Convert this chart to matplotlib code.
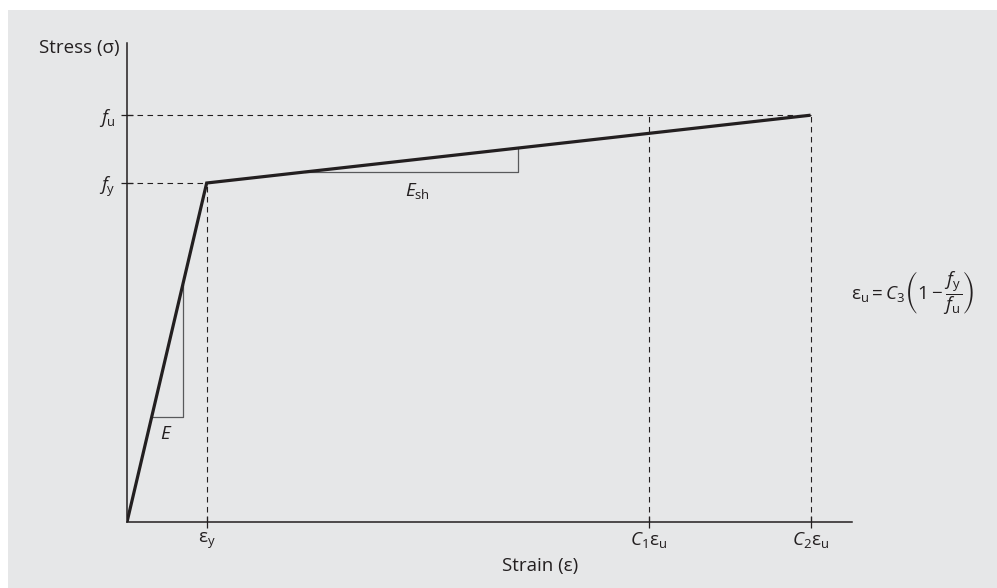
import matplotlib
matplotlib.use("Agg")
import matplotlib.pyplot as plt
from matplotlib.patches import Rectangle

plt.rcParams['font.family'] = ['Open Sans', 'DejaVu Sans']
plt.rcParams['mathtext.fontset'] = 'custom'
plt.rcParams['mathtext.rm'] = 'Open Sans'
plt.rcParams['mathtext.it'] = 'Open Sans:italic'
plt.rcParams['mathtext.bf'] = 'Open Sans:bold'
plt.rcParams['mathtext.fallback'] = 'stixsans'

# ---- data (normalised: eps_y = 1, f_y = 1) ----
eps_y = 1.0
C1_eps_u = 6.55
C2_eps_u = 8.58
f_y = 1.0
f_u = 1.20
x_max = 9.10
y_max = 1.413

curve_strain = [0.0, eps_y, C2_eps_u]
curve_stress = [0.0, f_y, f_u]

E_tri_strain = [0.31, 0.70]
Esh_tri_strain = [2.23, 4.91]

xtick_vals = [eps_y, C1_eps_u, C2_eps_u]
xtick_labels = [r'$\mathrm{ε}_\mathrm{y}$', r'$C_1\mathrm{ε}_\mathrm{u}$', r'$C_2\mathrm{ε}_\mathrm{u}$']
ytick_vals = [f_y, f_u]
ytick_labels = [r'$f_\mathrm{y}$', r'$f_\mathrm{u}$']

W, H = 997, 588
ink = '#231f20'
fs = 13.5
fig = plt.figure(figsize=(W / 100, H / 100), dpi=100, facecolor='white')
fig.patches.append(Rectangle((8 / W, 0), 1 - 8 / W, (H - 10) / H, transform=fig.transFigure,
                             facecolor='#e6e7e8', edgecolor='none', zorder=-5))

ax = fig.add_axes([127 / W, (H - 522) / H, (852 - 127) / W, (522 - 43) / H])
ax.set_facecolor('none')
ax.set_xlim(0, x_max)
ax.set_ylim(0, y_max)
for s in ['top', 'right']:
    ax.spines[s].set_visible(False)
for s in ['left', 'bottom']:
    ax.spines[s].set_color(ink)
    ax.spines[s].set_linewidth(1.1)

dash = dict(color=ink, lw=0.8, ls=(0, (5, 4)))
# dashed guides
ax.plot([0, C2_eps_u], [f_u, f_u], **dash)
ax.plot([0, eps_y], [f_y, f_y], **dash)
ax.plot([eps_y, eps_y], [0, f_y], **dash)
ax.plot([C1_eps_u, C1_eps_u], [0, f_u], **dash)
ax.plot([C2_eps_u, C2_eps_u], [0, f_u], **dash)

# main curve
ax.plot(curve_strain, curve_stress, color=ink, lw=2.3, solid_capstyle='butt', solid_joinstyle='miter', zorder=5)

# slope triangles
def stress_at(x):
    if x <= eps_y:
        return f_y * x / eps_y
    return f_y + (f_u - f_y) * (x - eps_y) / (C2_eps_u - eps_y)

tri_col = '#58595b'
a, b = E_tri_strain
ax.plot([a, b, b], [stress_at(a), stress_at(a), stress_at(b)], color=tri_col, lw=0.9)
a, b = Esh_tri_strain
ax.plot([a, b, b], [stress_at(a), stress_at(a), stress_at(b)], color=tri_col, lw=0.9)

ax.text(0.49, 0.26, r'$E$', ha='center', va='center', fontsize=fs, color=ink)
ax.text(3.65, 0.975, r'$E_\mathrm{sh}$', ha='center', va='center', fontsize=fs, color=ink)

ax.set_xticks(xtick_vals)
ax.set_xticklabels(xtick_labels, fontsize=fs, color=ink)
ax.set_yticks(ytick_vals)
ax.set_yticklabels(ytick_labels, fontsize=fs, color=ink)
ax.tick_params(axis='both', direction='inout', length=8, width=0.9, color=ink)
ax.tick_params(axis='x', pad=2)
ax.tick_params(axis='y', pad=4)

fig.text(120 / W, 1 - 48 / H, 'Stress (σ)', ha='right', va='center', fontsize=fs, color=ink)
fig.text(540 / W, 1 - 566 / H, 'Strain (ε)', ha='center', va='center', fontsize=fs, color=ink)
fig.text(913 / W, 1 - 293 / H,
         r'$\mathrm{ε}_\mathrm{u} = C_3\left(1 - \dfrac{f_\mathrm{y}}{f_\mathrm{u}}\right)$',
         ha='center', va='center', fontsize=fs, color=ink)

fig.savefig('out.png', dpi=100, facecolor='white')
